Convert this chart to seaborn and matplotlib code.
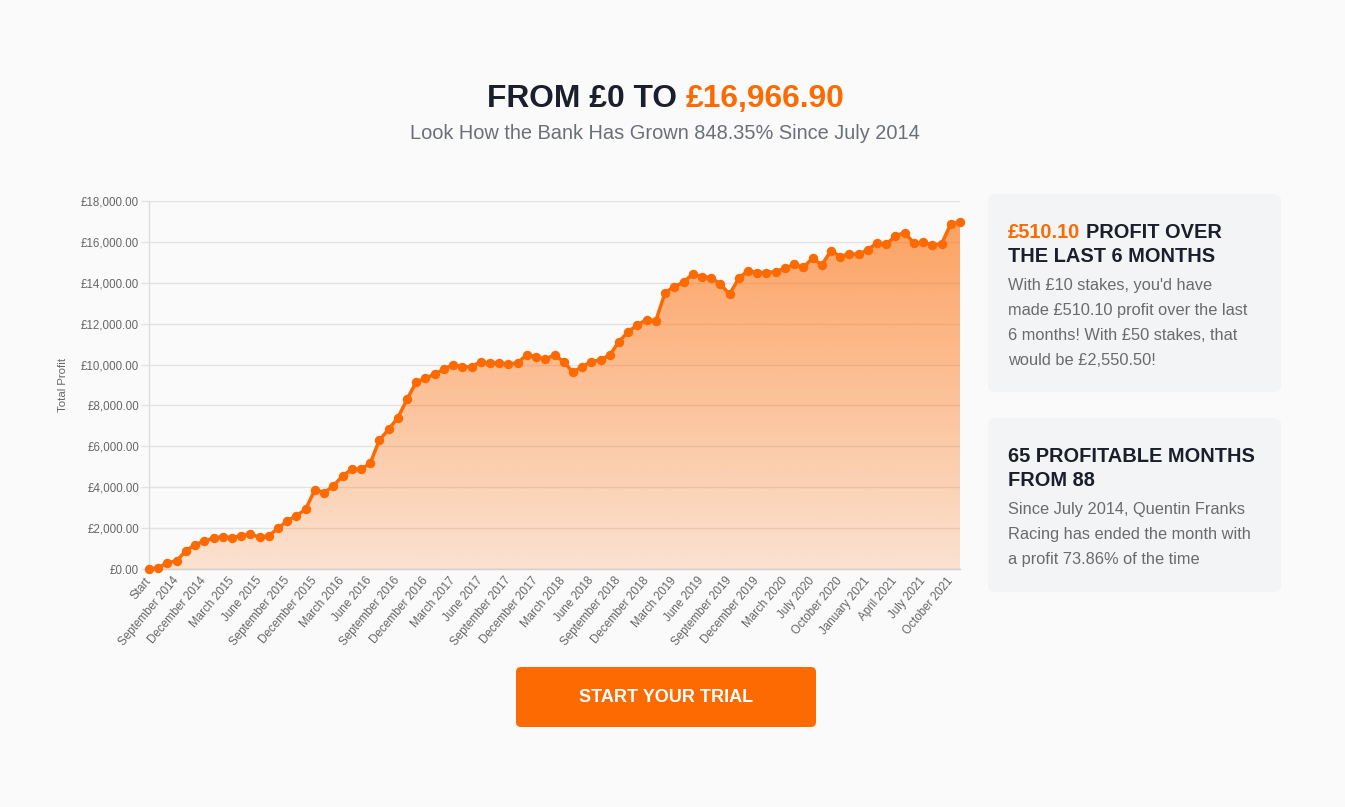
import numpy as np
import pandas as pd
import matplotlib
matplotlib.use("Agg")
import matplotlib.pyplot as plt
from matplotlib.patches import FancyBboxPatch, Polygon
import seaborn as sns

# ---------------- data ----------------
profit = [0, 60, 310, 390, 900, 1175, 1385, 1500, 1580, 1530,
          1630, 1710, 1550, 1630, 1990, 2360, 2610, 2920, 3880, 3735,
          4060, 4550, 4880, 4880, 5170, 6310, 6830, 7400, 8300, 9150,
          9330, 9540, 9770, 10000, 9880, 9900, 10140, 10060, 10090, 10015,
          10090, 10470, 10390, 10260, 10470, 10140, 9620, 9900, 10140, 10225,
          10470, 11120, 11610, 11940, 12200, 12150, 13520, 13810, 14025, 14430,
          14300, 14250, 13930, 13440, 14220, 14595, 14500, 14500, 14545, 14700,
          14900, 14760, 15200, 14870, 15570, 15280, 15410, 15400, 15610, 15960,
          15880, 16290, 16456.80, 15930, 15980, 15850, 15900, 16880, 16966.90]

tick_labels = ["Start", "September 2014", "December 2014", "March 2015", "June 2015",
               "September 2015", "December 2015", "March 2016", "June 2016",
               "September 2016", "December 2016", "March 2017", "June 2017",
               "September 2017", "December 2017", "March 2018", "June 2018",
               "September 2018", "December 2018", "March 2019", "June 2019",
               "September 2019", "December 2019", "March 2020", "July 2020",
               "October 2020", "January 2021", "April 2021", "July 2021",
               "October 2021"]

y_ticks = [0, 2000, 4000, 6000, 8000, 10000, 12000, 14000, 16000, 18000]

title_dark = "FROM £0 TO"
title_orange = "£16,966.90"
subtitle = "Look How the Bank Has Grown 848.35% Since July 2014"

card1_head_orange = "£510.10"
card1_head = ["£510.10 PROFIT OVER", "THE LAST 6 MONTHS"]
card1_body = ["With £10 stakes, you'd have", "made £510.10 profit over the last",
              "6 months! With £50 stakes, that", "would be £2,550.50!"]
card2_head = ["65 PROFITABLE MONTHS", "FROM 88"]
card2_body = ["Since July 2014, Quentin Franks", "Racing has ended the month with",
              "a profit 73.86% of the time"]
button_text = "START YOUR TRIAL"

# ---------------- style ----------------
ORANGE = "#fd6a02"
DARK = "#1b1f2b"
GRAY = "#6b6b6b"
SUBGRAY = "#6b6f78"
BG = "#fafafa"

sns.set_theme(style="white")
plt.rcParams["font.family"] = ["Liberation Sans", "DejaVu Sans"]

W, H = 1345, 807
fig = plt.figure(figsize=(W / 100, H / 100), dpi=100, facecolor=BG)

# overlay axes in pixel coordinates (y down)
ov = fig.add_axes([0, 0, 1, 1])
ov.set_xlim(0, W)
ov.set_ylim(H, 0)
ov.axis("off")
ov.patch.set_visible(False)

# ---------------- chart ----------------
L, R, T, B = 149, 960, 201, 569
ax = fig.add_axes([L / W, (H - B) / H, (R - L) / W, (B - T) / H])
ax.set_facecolor(BG)

df = pd.DataFrame({"idx": np.arange(len(profit)), "profit": profit})
n = len(profit) - 1

# gradient fill
alpha = np.linspace(0.17, 0.64, 256)
rgba = np.zeros((256, 1, 4))
rgba[..., 0] = 0xff / 255
rgba[..., 1] = 0x6a / 255
rgba[..., 2] = 0x02 / 255
rgba[:, 0, 3] = alpha
im = ax.imshow(rgba, extent=(0, n, 0, 18000), origin="lower", aspect="auto",
               zorder=1, interpolation="bilinear")
verts = [(0, 0)] + list(zip(df["idx"], df["profit"])) + [(n, 0)]
poly = Polygon(verts, closed=True, facecolor="none", edgecolor="none")
ax.add_patch(poly)
im.set_clip_path(poly)

sns.lineplot(data=df, x="idx", y="profit", ax=ax, color=ORANGE, linewidth=2.5,
             marker="o", markersize=6.8, markeredgewidth=0, zorder=3)
for ln in ax.lines:
    ln.set_clip_on(False)

ax.set_xlim(0, n)
ax.set_ylim(0, 18000)
ax.set_yticks(y_ticks)
ax.set_yticklabels([f"£{v:,.2f}" for v in y_ticks])
ax.set_xticks(list(range(0, len(profit), 3))[:len(tick_labels)])
ax.set_xticklabels(tick_labels, rotation=50, ha="right", rotation_mode="anchor",
                   va="center")
ax.set_axisbelow(True)
ax.yaxis.grid(True, color="#e2e2e2", linewidth=1, zorder=0)
ax.xaxis.grid(False)
for s in ["top", "right"]:
    ax.spines[s].set_visible(False)
ax.spines["left"].set_color("#dddddd")
ax.spines["bottom"].set_color("#d0d0d0")
ax.spines["left"].set_linewidth(1)
ax.spines["bottom"].set_linewidth(1)
ax.tick_params(axis="y", length=6, width=1, color="#e2e2e2", labelsize=8.3,
               labelcolor="#666666", pad=1, left=True)
ax.tick_params(axis="x", length=0, labelsize=8.4, labelcolor="#666666", pad=7,
               bottom=True)
ax.set_xlabel("")
ax.set_ylabel("Total Profit", fontsize=8.2, color="#666666")
ax.yaxis.set_label_coords((68 - L) / (R - L), 0.5)

# ---------------- texts ----------------
fig.canvas.draw()
renderer = fig.canvas.get_renderer()


def text_width(s, **kw):
    t = ov.text(0, 0, s, **kw)
    w = t.get_window_extent(renderer).width
    t.remove()
    return w


# title
tkw = dict(fontsize=22.9, fontweight="bold")
full = title_dark + " " + title_orange
wt = text_width(full, **tkw)
left = 666 - wt / 2
ov.text(left, 107, title_dark, color=DARK, ha="left", va="baseline", **tkw)
ov.text(left + wt, 107, title_orange, color=ORANGE, ha="right", va="baseline", **tkw)
ov.text(665, 139, subtitle, color=SUBGRAY, ha="center", va="baseline", fontsize=14.4)

# cards
for (y0, y1) in [(194, 392), (418, 592)]:
    ov.add_patch(FancyBboxPatch((988, y0), 1281 - 988, y1 - y0,
                                boxstyle="round,pad=0,rounding_size=7",
                                facecolor="#f3f4f6", edgecolor="none"))

hkw = dict(fontsize=14.4, fontweight="bold")
bkw = dict(fontsize=11.8, color=GRAY)
x0 = 1008
# card 1 heading with orange amount
wfull = text_width(card1_head[0], **hkw)
rest = card1_head[0][len(card1_head_orange):].strip()
ov.text(x0, 238, card1_head_orange, color=ORANGE, ha="left", va="baseline", **hkw)
ov.text(x0 + wfull, 238, rest, color=DARK, ha="right", va="baseline", **hkw)
ov.text(x0, 262, card1_head[1], color=DARK, ha="left", va="baseline", **hkw)
for i, s in enumerate(card1_body):
    ov.text(x0, 290 + 25 * i, s, ha="left", va="baseline", **bkw)

for i, s in enumerate(card2_head):
    ov.text(x0, 462 + 24 * i, s, color=DARK, ha="left", va="baseline", **hkw)
for i, s in enumerate(card2_body):
    ov.text(x0, 514 + 25 * i, s, ha="left", va="baseline", **bkw)

# button
ov.add_patch(FancyBboxPatch((516, 667), 300, 60,
                            boxstyle="round,pad=0,rounding_size=5",
                            facecolor=ORANGE, edgecolor="none"))
ov.text(666, 697, button_text, color="white", ha="center", va="center",
        fontsize=13, fontweight="bold")

fig.savefig("out.png", dpi=100, facecolor=BG)
